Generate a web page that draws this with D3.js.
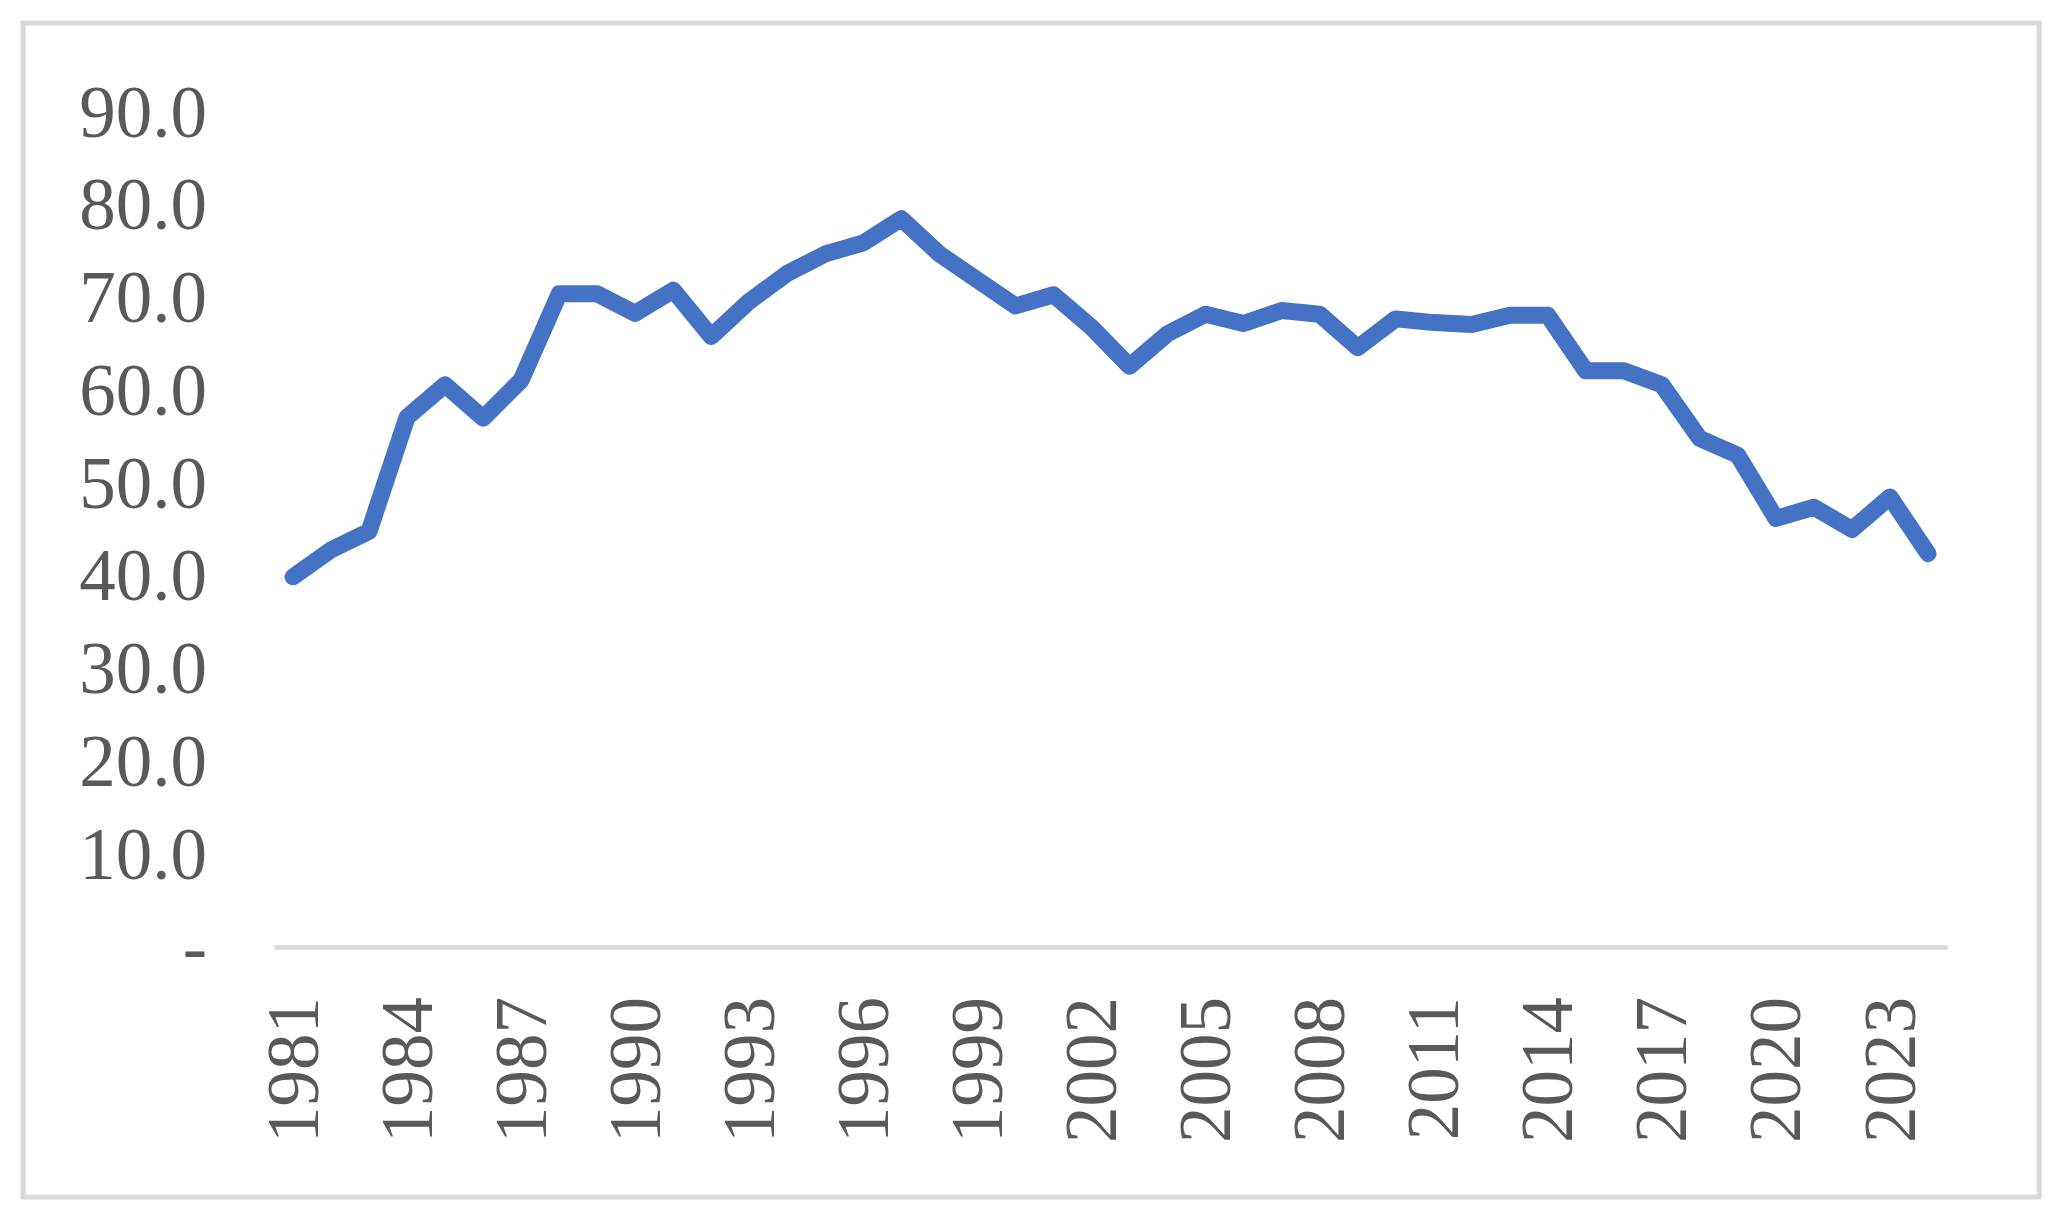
<!DOCTYPE html>
<html>
<head>
<meta charset="utf-8">
<script src="https://cdn.jsdelivr.net/npm/d3@7"></script>
<style>
  html, body { margin: 0; padding: 0; background: #ffffff; }
  svg { display: block; }
  text { font-family: "Liberation Serif", "Times New Roman", serif; fill: #595959; }
</style>
</head>
<body>
<svg id="chart" width="2066" height="1222"></svg>
<script>
const years = [1981,1982,1983,1984,1985,1986,1987,1988,1989,1990,1991,1992,1993,1994,1995,1996,1997,1998,1999,2000,2001,2002,2003,2004,2005,2006,2007,2008,2009,2010,2011,2012,2013,2014,2015,2016,2017,2018,2019,2020,2021,2022,2023,2024];
const values = [39.9,42.8,44.8,57.1,60.6,57.0,61.1,70.4,70.4,68.3,70.8,65.8,69.6,72.6,74.7,75.9,78.5,74.7,71.9,69.1,70.3,66.8,62.6,66.1,68.2,67.2,68.6,68.2,64.6,67.7,67.3,67.1,68.1,68.1,62.1,62.1,60.6,54.8,53.0,46.2,47.4,45.0,48.5,42.4];
const yTicks = [0,10,20,30,40,50,60,70,80,90];
const xTickLabels = [1981,1984,1987,1990,1993,1996,1999,2002,2005,2008,2011,2014,2017,2020,2023];

const svg = d3.select("#chart");

// outer chart border
svg.append("rect")
  .attr("x", 23).attr("y", 23)
  .attr("width", 2016).attr("height", 1174)
  .attr("fill", "#ffffff")
  .attr("stroke", "#d9d9d9")
  .attr("stroke-width", 5);

const x = d3.scalePoint().domain(years).range([274, 1947]).padding(0.5);
const y = d3.scaleLinear().domain([0, 90]).range([947, 112]);

// y axis labels
const yAxis = d3.axisLeft(y)
  .tickValues(yTicks)
  .tickSize(0)
  .tickPadding(0)
  .tickFormat(d => d === 0 ? "-" : d.toFixed(1));
const gy = svg.append("g").attr("transform", "translate(207,0)").call(yAxis);
gy.select(".domain").remove();
gy.selectAll("text")
  .attr("x", 0)
  .attr("dy", "0.33em")
  .style("font-size", "73px")
  .style("font-family", "'Liberation Serif','Times New Roman',serif")
  .attr("fill", "#595959");

// x axis
const xAxis = d3.axisBottom(x)
  .tickValues(xTickLabels)
  .tickSize(0)
  .tickSizeOuter(0);
const gx = svg.append("g").attr("transform", "translate(0,947)").call(xAxis);
gx.select(".domain")
  .attr("stroke", "#d9d9d9")
  .attr("stroke-width", 4.5);
gx.selectAll("text")
  .attr("transform", "rotate(-90)")
  .attr("x", -50)
  .attr("y", 0)
  .attr("dy", "0.33em")
  .attr("text-anchor", "end")
  .style("font-size", "73px")
  .style("font-family", "'Liberation Serif','Times New Roman',serif")
  .attr("fill", "#595959");

// line
const line = d3.line()
  .x((d, i) => x(years[i]))
  .y(d => y(d));
svg.append("path")
  .datum(values)
  .attr("d", line)
  .attr("fill", "none")
  .attr("stroke", "#4472c4")
  .attr("stroke-width", 17)
  .attr("stroke-linejoin", "round")
  .attr("stroke-linecap", "round");
</script>
</body>
</html>
